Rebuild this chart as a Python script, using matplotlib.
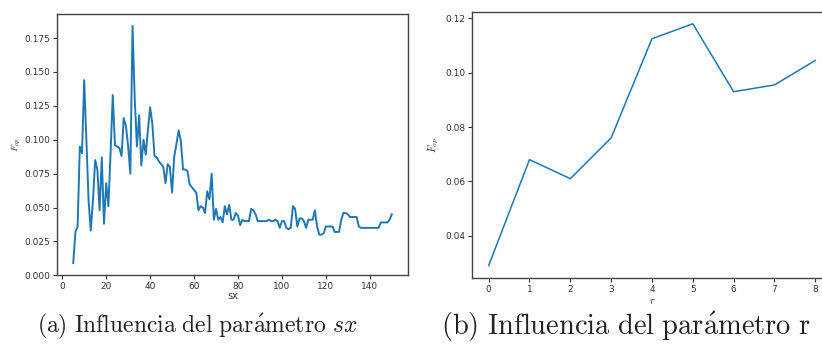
import matplotlib
matplotlib.use("Agg")
import matplotlib.pyplot as plt
import numpy as np

plt.rcParams['mathtext.fontset'] = 'cm'

# ---- data (a): influence of sx ----
sx = list(range(5, 151))
fop_sx = [
    0.009, 0.032, 0.036, 0.095, 0.090, 0.144, 0.100, 0.055, 0.033, 0.056,   # 5-14
    0.085, 0.078, 0.048, 0.087, 0.038, 0.068, 0.051, 0.090, 0.133, 0.096,   # 15-24
    0.095, 0.094, 0.088, 0.116, 0.110, 0.095, 0.075, 0.184, 0.130, 0.095,   # 25-34
    0.118, 0.081, 0.100, 0.089, 0.107, 0.124, 0.112, 0.088, 0.087, 0.084,   # 35-44
    0.082, 0.080, 0.068, 0.082, 0.080, 0.061, 0.088, 0.097, 0.107, 0.099,   # 45-54
    0.078, 0.078, 0.077, 0.067, 0.065, 0.063, 0.061, 0.048, 0.051, 0.050,   # 55-64
    0.046, 0.062, 0.056, 0.075, 0.041, 0.049, 0.041, 0.043, 0.039, 0.051,   # 65-74
    0.045, 0.052, 0.041, 0.041, 0.046, 0.044, 0.037, 0.041, 0.040, 0.040,   # 75-84
    0.040, 0.049, 0.048, 0.045, 0.040, 0.040, 0.040, 0.040, 0.040, 0.041,   # 85-94
    0.040, 0.040, 0.041, 0.040, 0.035, 0.040, 0.040, 0.035, 0.034, 0.035,   # 95-104
    0.051, 0.049, 0.036, 0.042, 0.042, 0.040, 0.035, 0.041, 0.041, 0.041,   # 105-114
    0.048, 0.036, 0.030, 0.030, 0.031, 0.036, 0.036, 0.036, 0.036, 0.032,   # 115-124
    0.032, 0.032, 0.041, 0.046, 0.046, 0.045, 0.043, 0.043, 0.043, 0.043,   # 125-134
    0.036, 0.035, 0.035, 0.035, 0.035, 0.035, 0.035, 0.035, 0.035, 0.035,   # 135-144
    0.039, 0.039, 0.039, 0.039, 0.041, 0.045,                               # 145-150
]

# ---- data (b): influence of r ----
r_vals = [0, 1, 2, 3, 4, 5, 6, 7, 8]
fop_r = [0.029, 0.068, 0.061, 0.076, 0.1125, 0.118, 0.093, 0.0955, 0.1045]

sx_ticks = [0, 20, 40, 60, 80, 100, 120, 140]
r_ticks = [0, 1, 2, 3, 4, 5, 6, 7, 8]

line_color = '#1f77b4'
spine_color = '#444444'
tick_color = '#333333'

fig = plt.figure(figsize=(8.22, 3.45), dpi=100)

# left axes
ax1 = fig.add_axes([0.0697, 0.2020, 0.4263, 0.7574])
ax1.plot(sx, fop_sx, color=line_color, lw=1.4)
ax1.set_xticks(sx_ticks)
ax1.set_yticks([0.0, 0.025, 0.05, 0.075, 0.1, 0.125, 0.15, 0.175])
ax1.yaxis.set_major_formatter(matplotlib.ticker.FormatStrFormatter('%.3f'))
ax1.set_xlabel('sx', fontsize=7, color=tick_color, labelpad=0)
ax1.set_ylabel(r'$F_{op}$', fontsize=7, color=tick_color, labelpad=1)

# right axes (extends beyond figure right edge)
ax2 = fig.add_axes([0.5746, 0.1951, 0.4371, 0.7710])
ax2.plot(r_vals, fop_r, color=line_color, lw=1.1)
ax2.set_xticks(r_ticks)
ax2.set_yticks([0.04, 0.06, 0.08, 0.10, 0.12])
ax2.yaxis.set_major_formatter(matplotlib.ticker.FormatStrFormatter('%.2f'))
ax2.set_xlabel(r'$r$', fontsize=7.5, color=tick_color, labelpad=2)
ax2.set_ylabel(r'$F_{op}$', fontsize=7.5, color=tick_color, labelpad=3)

for ax in (ax1, ax2):
    for s in ax.spines.values():
        s.set_color(spine_color)
        s.set_linewidth(1.0)
    ax.tick_params(labelsize=6.5, colors=tick_color, length=3, width=0.8, pad=2)

fig.text(0.240, 0.055, r'$\mathrm{(a)\ Influencia\ del\ par\acute{a}metro}\ sx$',
         fontsize=17, ha='center', va='center', color='#222222')
fig.text(0.762, 0.052, r'$\mathrm{(b)\ Influencia\ del\ par\acute{a}metro\ r}$',
         fontsize=20.5, ha='center', va='center', color='#222222')

fig.savefig('out.png', dpi=100)
